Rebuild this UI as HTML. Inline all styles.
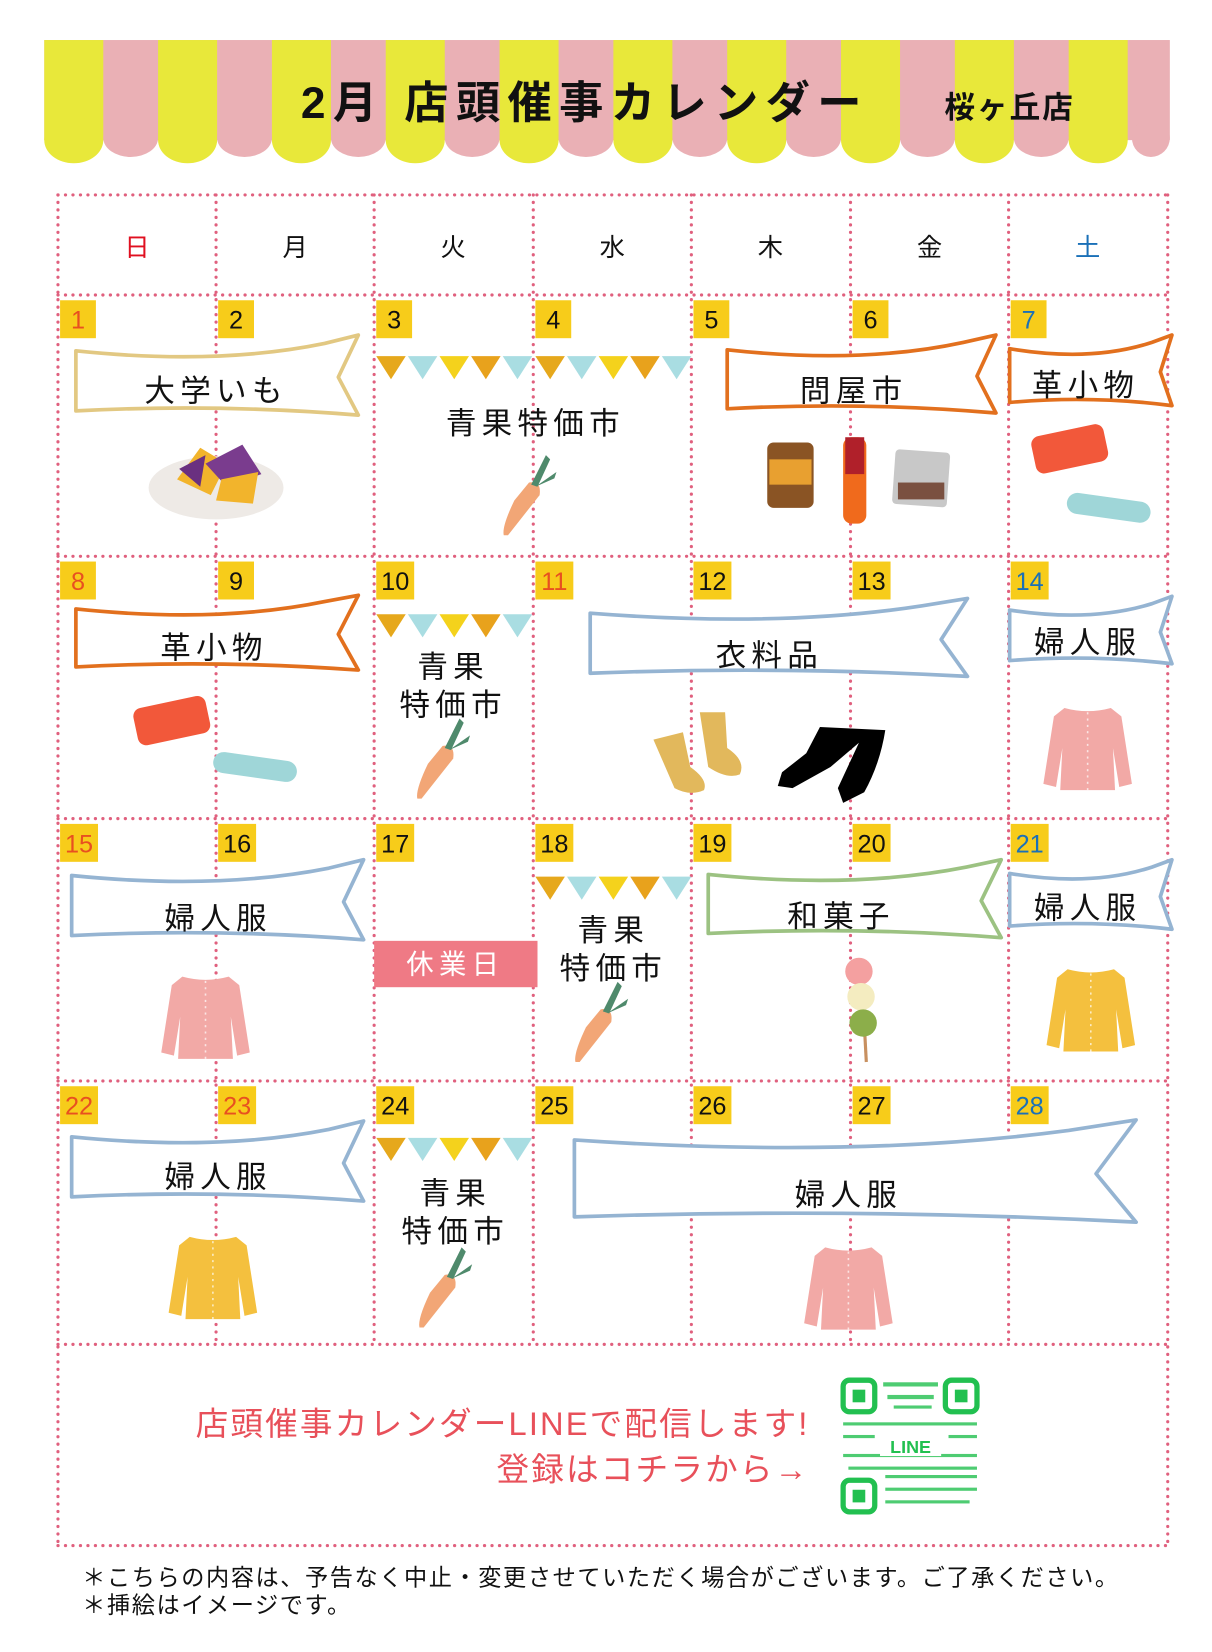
<!DOCTYPE html>
<html><head><meta charset="utf-8">
<style>
html,body{margin:0;padding:0;background:#fff;width:1212px;height:1652px;overflow:hidden}
svg{display:block}
text{font-family:"Liberation Sans","Noto Sans CJK JP",sans-serif}
</style></head><body>
<svg width="1212" height="1652" viewBox="0 0 1150 1568" preserveAspectRatio="none">
<defs>
<g id="b5">
<polygon points="0,0 28,0 14,22" fill="#e6a81c"/>
<polygon points="30,0 58,0 44,22" fill="#a9dde2"/>
<polygon points="60,0 88,0 74,22" fill="#f4d21c"/>
<polygon points="90,0 118,0 104,22" fill="#e8a21c"/>
<polygon points="120,0 148,0 134,22" fill="#a9dde2"/>
</g>
<g id="carrot">
<path d="M-22,38 Q-24,30 -12,5 L2,-12 Q14,-14 12,0 L-18,38 Z" fill="#f2a676"/>
<path d="M4,-10 L18,-38 L22,-34 L10,-8 Z M8,-8 L28,-22 L26,-16 Z" fill="#4f8a6c"/>
</g>
<g id="card">
<path d="M-22,-38 Q0,-32 22,-38 L32,-30 L42,34 L30,37 L24,0 L26,40 L-26,40 L-24,0 L-30,37 L-42,34 L-32,-30 Z"/>
<line x1="0" y1="-34" x2="0" y2="40" stroke="#fff" stroke-width="1.5" stroke-dasharray="2 4" opacity=".7"/>
</g>
<g id="pouch">
<rect x="-35" y="-18" width="70" height="36" rx="8" fill="#f2583a" transform="rotate(-12)"/>
</g>
<g id="pen">
<rect x="-40" y="-10" width="80" height="20" rx="10" fill="#9fd6d8" transform="rotate(8)"/>
</g>
</defs>

<!-- awning -->
<g>
<rect x="42" y="38" width="1068" height="95" fill="#eab0b5"/>
<g fill="#e8e83a">
<rect x="42" y="38" width="56" height="95"/><rect x="150" y="38" width="56" height="95"/><rect x="258" y="38" width="56" height="95"/><rect x="366" y="38" width="56" height="95"/><rect x="474" y="38" width="56" height="95"/><rect x="582" y="38" width="56" height="95"/><rect x="690" y="38" width="56" height="95"/><rect x="798" y="38" width="56" height="95"/><rect x="906" y="38" width="56" height="95"/><rect x="1014" y="38" width="56" height="95"/>
<ellipse cx="70" cy="133" rx="28" ry="22"/><ellipse cx="178" cy="133" rx="28" ry="22"/><ellipse cx="286" cy="133" rx="28" ry="22"/><ellipse cx="394" cy="133" rx="28" ry="22"/><ellipse cx="502" cy="133" rx="28" ry="22"/><ellipse cx="610" cy="133" rx="28" ry="22"/><ellipse cx="718" cy="133" rx="28" ry="22"/><ellipse cx="826" cy="133" rx="28" ry="22"/><ellipse cx="934" cy="133" rx="28" ry="22"/><ellipse cx="1042" cy="133" rx="28" ry="22"/>
</g>
<g fill="#eab0b5">
<ellipse cx="124" cy="131" rx="26" ry="18"/><ellipse cx="232" cy="131" rx="26" ry="18"/><ellipse cx="340" cy="131" rx="26" ry="18"/><ellipse cx="448" cy="131" rx="26" ry="18"/><ellipse cx="556" cy="131" rx="26" ry="18"/><ellipse cx="664" cy="131" rx="26" ry="18"/><ellipse cx="772" cy="131" rx="26" ry="18"/><ellipse cx="880" cy="131" rx="26" ry="18"/><ellipse cx="988" cy="131" rx="26" ry="18"/><ellipse cx="1092" cy="131" rx="18" ry="18"/>
</g>
</g>
<text x="555" y="112" font-size="42" text-anchor="middle" letter-spacing="7" fill="#111" font-weight="bold">2月 店頭催事カレンダー</text>
<text x="958" y="112" font-size="29" text-anchor="middle" letter-spacing="2" fill="#111" font-weight="bold">桜ヶ丘店</text>

<!-- grid -->
<g stroke="#e0607e" stroke-width="3" stroke-dasharray="0.1 7" stroke-linecap="round" fill="none">
<line x1="55" y1="185" x2="1108" y2="185"/><line x1="55" y1="280" x2="1108" y2="280"/><line x1="55" y1="528" x2="1108" y2="528"/><line x1="55" y1="777" x2="1108" y2="777"/><line x1="55" y1="1026" x2="1108" y2="1026"/><line x1="55" y1="1276" x2="1108" y2="1276"/><line x1="55" y1="1467" x2="1108" y2="1467"/>
<line x1="55" y1="185" x2="55" y2="1467"/><line x1="1108" y1="185" x2="1108" y2="1467"/>
<line x1="205" y1="185" x2="205" y2="1276"/><line x1="355" y1="185" x2="355" y2="1276"/><line x1="506" y1="185" x2="506" y2="1276"/><line x1="656" y1="185" x2="656" y2="1276"/><line x1="807" y1="185" x2="807" y2="1276"/><line x1="957" y1="185" x2="957" y2="1276"/>
</g>
<g font-size="24" text-anchor="middle">
<text x="130" y="243" fill="#e01020">日</text><text x="280" y="243" fill="#111">月</text><text x="430" y="243" fill="#111">火</text><text x="581" y="243" fill="#111">水</text><text x="731" y="243" fill="#111">木</text><text x="882" y="243" fill="#111">金</text><text x="1032" y="243" fill="#1a70b8">土</text>
</g>

<!-- date boxes -->
<g fill="#f7cc1a">
<rect x="57" y="285" width="34" height="36"/><rect x="207" y="285" width="34" height="36"/><rect x="357" y="285" width="34" height="36"/><rect x="508" y="285" width="34" height="36"/><rect x="658" y="285" width="34" height="36"/><rect x="809" y="285" width="34" height="36"/><rect x="959" y="285" width="34" height="36"/>
<rect x="57" y="533" width="34" height="36"/><rect x="207" y="533" width="34" height="36"/><rect x="357" y="533" width="36" height="36"/><rect x="508" y="533" width="36" height="36"/><rect x="658" y="533" width="36" height="36"/><rect x="809" y="533" width="36" height="36"/><rect x="959" y="533" width="36" height="36"/>
<rect x="57" y="782" width="36" height="36"/><rect x="207" y="782" width="36" height="36"/><rect x="357" y="782" width="36" height="36"/><rect x="508" y="782" width="36" height="36"/><rect x="658" y="782" width="36" height="36"/><rect x="809" y="782" width="36" height="36"/><rect x="959" y="782" width="36" height="36"/>
<rect x="57" y="1031" width="36" height="36"/><rect x="207" y="1031" width="36" height="36"/><rect x="357" y="1031" width="36" height="36"/><rect x="508" y="1031" width="36" height="36"/><rect x="658" y="1031" width="36" height="36"/><rect x="809" y="1031" width="36" height="36"/><rect x="959" y="1031" width="36" height="36"/>
</g>
<g font-size="24" text-anchor="middle" fill="#111">
<text x="74" y="312" fill="#e85020">1</text><text x="224" y="312">2</text><text x="374" y="312">3</text><text x="525" y="312">4</text><text x="675" y="312">5</text><text x="826" y="312">6</text><text x="976" y="312" fill="#1a70b8">7</text>
<text x="74" y="560" fill="#e85020">8</text><text x="224" y="560">9</text><text x="375" y="560">10</text><text x="526" y="560" fill="#e85020">11</text><text x="676" y="560">12</text><text x="827" y="560">13</text><text x="977" y="560" fill="#1a70b8">14</text>
<text x="75" y="809" fill="#e85020">15</text><text x="225" y="809">16</text><text x="375" y="809">17</text><text x="526" y="809">18</text><text x="676" y="809">19</text><text x="827" y="809">20</text><text x="977" y="809" fill="#1a70b8">21</text>
<text x="75" y="1058" fill="#e85020">22</text><text x="225" y="1058" fill="#e85020">23</text><text x="375" y="1058">24</text><text x="526" y="1058">25</text><text x="676" y="1058">26</text><text x="827" y="1058">27</text><text x="977" y="1058" fill="#1a70b8">28</text>
</g>

<!-- banners -->
<g fill="#fff" stroke-width="3.5" stroke-linejoin="round">
<path stroke="#e2c882" d="M72,333 Q206,347 308,326 L340,318 L321,358 L340,394 Q206,383 72,390 Z"/>
<path stroke="#e2701e" d="M690,332 Q817,346 914,325 L945,318 L927,357 L945,392 Q817,381 690,388 Z"/>
<path stroke="#e2701e" d="M958,331 Q1035,344 1093,325 L1112,318 L1101,353 L1112,385 Q1035,375 958,382 Z"/>
<path stroke="#e2701e" d="M72,578 Q206,592 308,571 L340,565 L321,602 L340,636 Q206,626 72,633 Z"/>
<path stroke="#95b4d2" d="M560,582 Q739,596 875,575 L918,568 L893,607 L918,642 Q739,632 560,639 Z"/>
<path stroke="#95b4d2" d="M958,579 Q1035,591 1093,573 L1112,566 L1101,600 L1112,630 Q1035,621 958,627 Z"/>
<path stroke="#95b4d2" d="M68,831 Q206,845 312,824 L345,816 L326,856 L345,892 Q206,881 68,888 Z"/>
<path stroke="#9cc282" d="M672,830 Q811,844 917,823 L950,816 L931,855 L950,890 Q811,879 672,886 Z"/>
<path stroke="#95b4d2" d="M958,829 Q1035,842 1093,823 L1112,816 L1101,851 L1112,882 Q1035,873 958,879 Z"/>
<path stroke="#95b4d2" d="M68,1079 Q206,1093 312,1072 L345,1064 L326,1104 L345,1140 Q206,1129 68,1136 Z"/>
<path stroke="#95b4d2" d="M545,1082 Q811,1100 1014,1073 L1078,1063 L1040,1114 L1078,1160 Q811,1146 545,1155 Z"/>
</g>
<g font-size="29" text-anchor="middle" fill="#111" letter-spacing="5">
<text x="205" y="381">大学いも</text>
<text x="810" y="381">問屋市</text>
<text x="1030" y="376">革小物</text>
<text x="203" y="625">革小物</text>
<text x="730" y="632">衣料品</text>
<text x="1032" y="620">婦人服</text>
<text x="207" y="882">婦人服</text>
<text x="798" y="880">和菓子</text>
<text x="1032" y="872">婦人服</text>
<text x="207" y="1127">婦人服</text>
<text x="805" y="1144">婦人服</text>
<text x="508" y="412">青果特価市</text>
<text x="430" y="643">青果</text><text x="430" y="679">特価市</text>
<text x="582" y="893">青果</text><text x="582" y="929">特価市</text>
<text x="432" y="1143">青果</text><text x="432" y="1179">特価市</text>
</g>

<!-- bunting -->
<use href="#b5" x="357" y="338"/><use href="#b5" x="508" y="338"/>
<use href="#b5" x="357" y="583"/><use href="#b5" x="508" y="832"/><use href="#b5" x="357" y="1080"/>

<!-- carrots -->
<use href="#carrot" x="500" y="470"/><use href="#carrot" x="418" y="720"/><use href="#carrot" x="568" y="970"/><use href="#carrot" x="420" y="1222"/>

<!-- 休業日 -->
<rect x="355" y="893" width="155" height="44" fill="#ef7a85"/>
<text x="432" y="924" font-size="26" text-anchor="middle" fill="#fff" letter-spacing="5">休業日</text>

<!-- sweet potato -->
<ellipse cx="205" cy="463" rx="64" ry="30" fill="#eeeae6"/>
<path d="M168,455 L190,425 L215,440 L200,470 Z" fill="#f2b42c"/>
<path d="M195,440 L230,422 L248,450 L215,462 Z" fill="#7a3c8e"/>
<path d="M210,455 L245,448 L240,478 L205,475 Z" fill="#f2b42c"/>
<path d="M170,445 L195,432 L190,462 Z" fill="#6a3080"/>

<!-- products -->
<rect x="728" y="420" width="44" height="62" rx="6" fill="#8a5424"/><rect x="730" y="436" width="40" height="24" fill="#e8a030"/>
<rect x="800" y="415" width="22" height="82" rx="8" fill="#f06a1c"/><rect x="802" y="415" width="18" height="35" fill="#b0202a"/>
<rect x="848" y="428" width="52" height="52" rx="4" fill="#c8c8c8" transform="rotate(4 874 454)"/><rect x="852" y="458" width="44" height="16" fill="#7a5040"/>

<!-- pouches -->
<use href="#pouch" x="1015" y="426"/><use href="#pen" x="1052" y="482"/>
<use href="#pouch" x="163" y="684"/><use href="#pen" x="242" y="728"/>

<!-- socks & tights -->
<path d="M620,702 L648,695 L655,728 Q672,740 668,750 Q655,756 640,748 Z" fill="#e2b85c"/>
<path d="M664,676 L688,676 L690,710 Q708,722 702,735 Q690 740 672,728 Z" fill="#e2b85c"/>
<path d="M778,690 L840,693 Q835,725 820,752 L800,762 L795,748 L815,705 L788,728 L752,748 L738,746 L742,733 L765,715 Z" fill="#000"/>

<!-- cardigans -->
<use href="#card" x="1032" y="710" fill="#f2a9a6"/>
<use href="#card" x="195" y="965" fill="#f2a9a6"/>
<use href="#card" x="1035" y="958" fill="#f4c03e"/>
<use href="#card" x="202" y="1212" fill="#f4c03e"/>
<use href="#card" x="805" y="1222" fill="#f2a9a6"/>

<!-- dango -->
<line x1="817" y1="915" x2="822" y2="1008" stroke="#c89060" stroke-width="3"/>
<circle cx="815" cy="922" r="13" fill="#f4a0a0"/><circle cx="817" cy="946" r="13" fill="#f4ecc0"/><circle cx="819" cy="971" r="13" fill="#8cae4a"/>

<!-- bottom -->
<g font-size="31" text-anchor="end" fill="#e8505a" letter-spacing="2">
<text x="768" y="1362">店頭催事カレンダーLINEで配信します!</text>
<text x="768" y="1405">登録はコチラから→</text>
</g>
<g fill="#22c050">
<rect x="800" y="1310" width="127" height="125" fill="#fff"/>
<rect x="800" y="1310" width="30" height="30" rx="6" fill="none" stroke="#22c050" stroke-width="5"/><rect x="809" y="1319" width="12" height="12"/>
<rect x="897" y="1310" width="30" height="30" rx="6" fill="none" stroke="#22c050" stroke-width="5"/><rect x="906" y="1319" width="12" height="12"/>
<rect x="800" y="1405" width="30" height="30" rx="6" fill="none" stroke="#22c050" stroke-width="5"/><rect x="809" y="1414" width="12" height="12"/>
<g opacity=".8">
<rect x="838" y="1312" width="52" height="4"/><rect x="842" y="1324" width="44" height="4"/><rect x="800" y="1350" width="127" height="3"/><rect x="805" y="1392" width="122" height="3"/><rect x="840" y="1400" width="87" height="3"/><rect x="840" y="1412" width="87" height="3"/><rect x="840" y="1424" width="80" height="3"/><rect x="848" y="1334" width="36" height="3"/><rect x="800" y="1362" width="30" height="3"/><rect x="900" y="1362" width="27" height="3"/><rect x="800" y="1380" width="127" height="3"/>
</g>
<rect x="835" y="1362" width="58" height="20" fill="#fff"/>
<text x="864" y="1379" font-size="17" font-weight="bold" text-anchor="middle" fill="#22c050">LINE</text>
</g>

<g font-size="22" fill="#111" letter-spacing="1.5">
<text x="78" y="1505">＊こちらの内容は、予告なく中止・変更させていただく場合がございます。ご了承ください。</text>
<text x="78" y="1531">＊挿絵はイメージです。</text>
</g>
</svg>
</body></html>
